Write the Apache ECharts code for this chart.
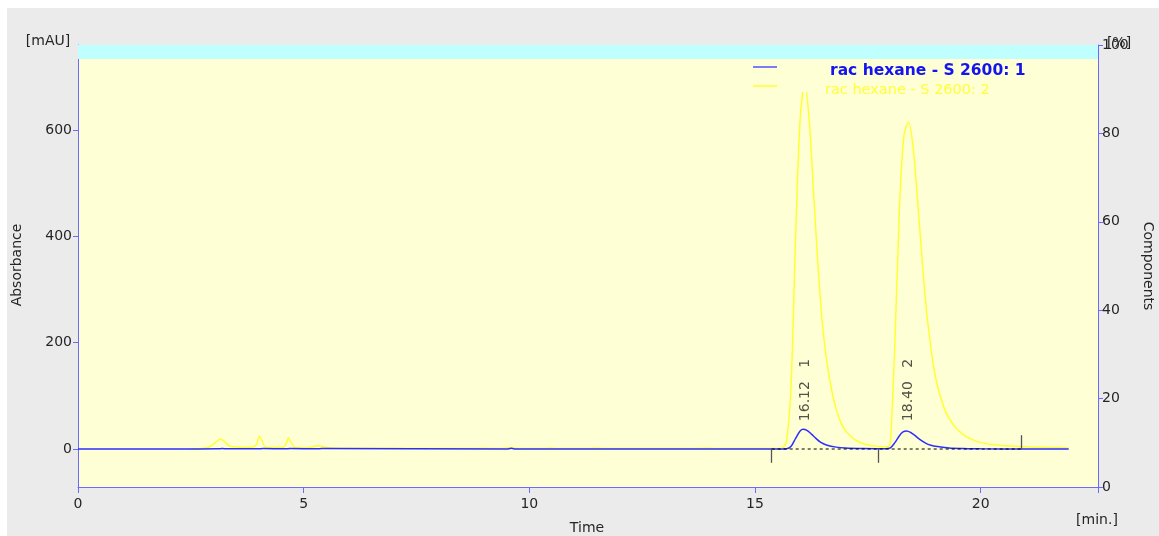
<!DOCTYPE html>
<html><head><meta charset="utf-8">
<script src="https://cdn.jsdelivr.net/npm/echarts@6/dist/echarts.min.js"></script>
<style>html,body{margin:0;padding:0;background:#fff}#c{width:1159px;height:536px}</style>
</head><body><div id="c"></div>
<script>
// ---- data ----
const yellowTimes = [2.5,2.7,2.88,3.0,3.1,3.15,3.22,3.37,3.6,3.85,3.95,4.02,4.08,4.15,4.35,4.55,4.62,4.66,4.72,4.81,5.0,5.14,5.25,5.32,5.4,5.52,5.8,6.5,7.5,8.5,8.98,9.3,9.45,9.55,9.7,10.0,10.35,10.47,10.6,11.0,11.35,11.5,11.65,12.5,13.5,13.85,13.95,14.05,14.6,15.2,15.5,15.6,15.7,15.8,15.9,16.0,16.1,16.2,16.3,16.4,16.5,16.6,16.7,16.8,16.9,17.0,17.2,17.4,17.6,17.8,17.95,18.0,18.1,18.2,18.3,18.4,18.5,18.6,18.7,18.8,18.9,19.0,19.2,19.4,19.6,19.8,20.0,20.4,21.0,21.5,21.95];
const yellowVals  = [0.5,1,3,9,16,19,16,5,3.5,3.5,8,24,15,4,3,3.5,12,21,13,3,2.5,3,5,6,5,2.5,1,0.8,0.8,0.8,1.2,0.8,1.5,2.5,1.2,0.8,1,1.8,1,0.8,1,1.8,1,0.8,0.8,1.2,1.8,1.2,0.8,0.8,0.8,2,15,120,400,620,690,620,480,340,230,160,110,75,50,35,18,10,6,4,4,12,200,450,590,615,570,470,360,260,190,135,75,45,28,18,12,7,4,3,2];
const blueTimes = [0,2.5,3.1,3.2,3.3,4.0,4.1,4.6,4.7,5.3,5.4,9.5,9.6,9.7,15.6,15.7,15.8,15.9,16.0,16.07,16.15,16.25,16.35,16.45,16.6,16.8,17.0,17.4,17.9,18.0,18.1,18.2,18.28,18.36,18.45,18.55,18.65,18.8,18.9,19.0,19.3,19.6,20.0,21.0,21.95];
const blueVals  = [0,0,0.3,1,0.3,0.3,1,0.3,1,0.3,0.8,0,1.2,0,0,0.3,5,20,34,37,35,28,20,13,7,3.5,2,1,0.5,2,12,25,32,34,31,25,18,10,7,5,2,1,0.3,0,0];
const peakTimes = [16.12, 18.40];
const peakNames = ['1', '2'];
const peakLabelLevel = 58;
const intBaseline = [[15.37, 0], [20.91, 0]];
const intMarks = [[15.37, -26], [17.74, -26], [20.91, 26]];
const leftTicks = [0, 200, 400, 600];
const xTicks = [0, 5, 10, 15, 20];
const legendNames = ['rac hexane - S 2600: 1', 'rac hexane - S 2600: 2'];

const zip = (a, b) => a.map((t, i) => [t, b[i]]);
const axisCol = '#6a6aff';
const labCol = '#262626';
const font = 'DejaVu Sans';

const chart = echarts.init(document.getElementById('c'), null, {renderer: 'canvas'});
chart.setOption({
  animation: false,
  backgroundColor: '#ffffff',
  grid: {left: 78, right: 61, top: 45, bottom: 49, show: true, backgroundColor: '#ffffd5', borderWidth: 0},
  xAxis: {
    type: 'value', min: 0, max: 22.6, interval: 5,
    axisLine: {show: true, onZero: false, lineStyle: {color: axisCol, width: 1}},
    axisTick: {show: true, length: 6, lineStyle: {color: axisCol}},
    axisLabel: {color: labCol, fontFamily: font, fontSize: 14, margin: 10,
      formatter: v => xTicks.includes(v) ? String(v) : ''},
    splitLine: {show: false}
  },
  yAxis: [{
    type: 'value', min: -71.5, max: 760, position: 'left',
    axisLine: {show: true, onZero: false, lineStyle: {color: axisCol}},
    axisTick: {show: true, length: 5, customValues: leftTicks, lineStyle: {color: axisCol}},
    axisLabel: {color: labCol, fontFamily: font, fontSize: 14, margin: 6, customValues: leftTicks},
    splitLine: {show: false}
  }, {
    type: 'value', min: 0, max: 100, interval: 20, position: 'right',
    axisLine: {show: true, onZero: false, lineStyle: {color: axisCol}},
    axisTick: {show: true, length: 5, lineStyle: {color: axisCol}},
    axisLabel: {color: labCol, fontFamily: font, fontSize: 14, margin: 4},
    splitLine: {show: false}
  }],
  series: [{
    type: 'line', name: legendNames[1], data: zip(yellowTimes, yellowVals),
    smooth: 0.3, symbol: 'none', lineStyle: {color: '#ffff30', width: 1.5}, z: 2,
    markArea: {silent: true, itemStyle: {color: '#c0ffff'}, data: [[{yAxis: 733.5}, {yAxis: 760}]]}
  }, {
    type: 'line', name: legendNames[0], data: zip(blueTimes, blueVals),
    smooth: 0.3, symbol: 'none', lineStyle: {color: '#2e2eff', width: 1.5}, z: 3
  }, {
    type: 'line', name: 'baseline', data: intBaseline, symbol: 'none', z: 4,
    lineStyle: {color: '#000', width: 1.2, type: [3, 3]},
    markLine: {silent: true, symbol: 'none', label: {show: false},
      lineStyle: {color: '#555', width: 1.3, type: 'solid'},
      data: intMarks.map(m => [{coord: [m[0], 0]}, {coord: [m[0], m[1]]}])}
  }, {
    type: 'scatter', name: 'peaks', symbolSize: 0, z: 5,
    data: peakTimes.map((t, i) => ({value: [t, peakLabelLevel], name: peakNames[i]})),
    label: {show: true, position: 'inside', rotate: 90, align: 'left', verticalAlign: 'middle',
      offset: [-3, 0], color: labCol, fontFamily: font, fontSize: 14,
      formatter: p => p.value[0].toFixed(2) + '   ' + p.name}
  }],
  graphic: [
    {type: 'rect', z: 100, shape: {x: 785, y: 59, width: 250, height: 33}, style: {fill: '#ffffd5'}},
    {type: 'line', z: 101, shape: {x1: 753, y1: 67, x2: 777, y2: 67}, style: {stroke: '#5050ff', lineWidth: 1.5}},
    {type: 'line', z: 101, shape: {x1: 753, y1: 86, x2: 777, y2: 86}, style: {stroke: '#ffff30', lineWidth: 1.5}},
    {type: 'text', z: 101, x: 830, y: 71, style: {text: legendNames[0], fill: '#1414f0', font: 'bold 15.5px "DejaVu Sans"', textVerticalAlign: 'middle'}},
    {type: 'text', z: 101, x: 825, y: 90, style: {text: legendNames[1], fill: '#ffff38', font: '14.5px "DejaVu Sans"', textVerticalAlign: 'middle'}},
    {type: 'rect', z: -10, shape: {x: 7, y: 8, width: 1152, height: 528}, style: {fill: '#ebebeb'}},
    {type: 'text', z: 101, x: 48, y: 41, style: {text: '[mAU]', fill: labCol, font: '14px "DejaVu Sans"', textAlign: 'center', textVerticalAlign: 'middle'}},
    {type: 'text', z: 101, x: 1119, y: 43, style: {text: '[%]', fill: labCol, font: '14px "DejaVu Sans"', textAlign: 'center', textVerticalAlign: 'middle'}},
    {type: 'text', z: 101, x: 17, y: 265, rotation: Math.PI / 2, style: {text: 'Absorbance', fill: labCol, font: '14px "DejaVu Sans"', textAlign: 'center', textVerticalAlign: 'middle'}},
    {type: 'text', z: 101, x: 1148, y: 266, rotation: -Math.PI / 2, style: {text: 'Components', fill: labCol, font: '14px "DejaVu Sans"', textAlign: 'center', textVerticalAlign: 'middle'}},
    {type: 'text', z: 101, x: 587, y: 528, style: {text: 'Time', fill: labCol, font: '14px "DejaVu Sans"', textAlign: 'center', textVerticalAlign: 'middle'}},
    {type: 'text', z: 101, x: 1097, y: 520, style: {text: '[min.]', fill: labCol, font: '14px "DejaVu Sans"', textAlign: 'center', textVerticalAlign: 'middle'}}
  ]
});
</script></body></html>
